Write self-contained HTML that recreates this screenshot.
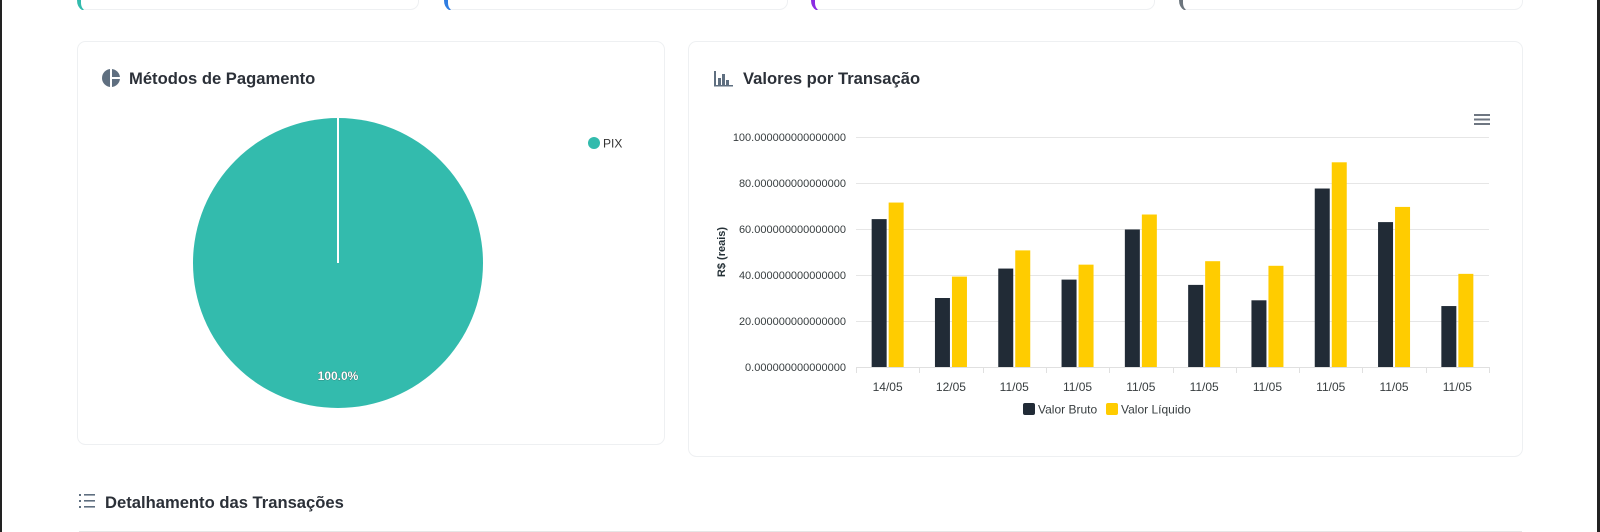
<!DOCTYPE html>
<html><head><meta charset="utf-8">
<style>
html,body{margin:0;padding:0;background:#fff;}
body{width:1600px;height:532px;overflow:hidden;position:relative;font-family:"Liberation Sans",Arial,sans-serif;}
svg{position:absolute;left:0;top:0;}
</style></head><body>
<svg width="1600" height="532" viewBox="0 0 1600 532" xmlns="http://www.w3.org/2000/svg" font-family="Liberation Sans, Arial, sans-serif">
  <rect x="0" y="0" width="2" height="532" fill="#222"/>
  <rect x="1597" y="0" width="3" height="532" fill="#222"/>
  <!-- top stub cards -->
  <g fill="#fff" stroke="#eef0f2" stroke-width="1">
    <rect x="77.5" y="-20" width="341" height="29.5" rx="8"/>
    <rect x="444.5" y="-20" width="343" height="29.5" rx="8"/>
    <rect x="811.5" y="-20" width="343" height="29.5" rx="8"/>
    <rect x="1179.5" y="-20" width="343" height="29.5" rx="8"/>
  </g>
  <path d="M77 0 h4 v3 q0 4 3 7 h-2 q-5 -3 -5 -10z" fill="#33bbad"/>
  <path d="M444 0 h4 v3 q0 4 3 7 h-2 q-5 -3 -5 -10z" fill="#2f7de1"/>
  <path d="M811 0 h4 v3 q0 4 3 7 h-2 q-5 -3 -5 -10z" fill="#8b2be2"/>
  <path d="M1179 0 h4 v3 q0 4 3 7 h-2 q-5 -3 -5 -10z" fill="#6c757d"/>

  <!-- cards -->
  <rect x="77.5" y="41.5" width="587" height="403" rx="8" fill="#fff" stroke="#eef0f2"/>
  <rect x="688.5" y="41.5" width="834" height="415" rx="8" fill="#fff" stroke="#eef0f2"/>

  <!-- pie card title -->
  <circle cx="111" cy="78" r="9" fill="#5f6f80"/>
  <rect x="110" y="68" width="2" height="20" fill="#fff"/>
  <rect x="111" y="77" width="10" height="2" fill="#fff"/>
  <text x="129" y="84" font-size="16.6" font-weight="bold" fill="#2b3038">Métodos de Pagamento</text>
  <circle cx="338" cy="263" r="145" fill="#33bbad"/>
  <rect x="337" y="118" width="2" height="145" fill="#fff"/>
  <text x="338" y="380" font-size="12" font-weight="bold" fill="#fff" text-anchor="middle" stroke="#2a5a55" stroke-width="0.6" paint-order="stroke">100.0%</text>
  <circle cx="594" cy="143" r="6" fill="#33bbad"/>
  <text x="603" y="147.5" font-size="12" fill="#333">PIX</text>

  <!-- bar card title -->
  <g fill="#5f6f80">
    <rect x="714" y="71" width="2" height="15"/>
    <rect x="718" y="78" width="3" height="8"/>
    <rect x="722" y="74" width="3" height="12"/>
    <rect x="726" y="80" width="3" height="6"/>
    <rect x="714" y="85" width="19" height="1.5"/>
  </g>
  <text x="743" y="84" font-size="16.6" font-weight="bold" fill="#2b3038">Valores por Transação</text>
  <g fill="#6e7681"><rect x="1474" y="114" width="16" height="2"/><rect x="1474" y="118.5" width="16" height="2"/><rect x="1474" y="123" width="16" height="2"/></g>

  <!-- grid -->
  <g stroke="#e6e6e6" stroke-width="1">
    <line x1="856" x2="1489" y1="137.5" y2="137.5"/>
    <line x1="856" x2="1489" y1="183.5" y2="183.5"/>
    <line x1="856" x2="1489" y1="229.5" y2="229.5"/>
    <line x1="856" x2="1489" y1="275.5" y2="275.5"/>
    <line x1="856" x2="1489" y1="321.5" y2="321.5"/>
  </g>
  <g font-size="11" fill="#373d3f" text-anchor="end">
    <text x="846" y="141">100.000000000000000</text>
    <text x="846" y="187">80.000000000000000</text>
    <text x="846" y="233">60.000000000000000</text>
    <text x="846" y="279">40.000000000000000</text>
    <text x="846" y="325">20.000000000000000</text>
    <text x="846" y="371">0.000000000000000</text>
  </g>
  <text transform="translate(725,252) rotate(-90)" font-size="11" font-weight="bold" fill="#263238" text-anchor="middle">R$ (reais)</text>

  <g id="bars"></g>
  <line x1="856" x2="1489" y1="367.5" y2="367.5" stroke="#e0e0e0"/>
  <g id="ticks" stroke="#e0e0e0"></g>
  <g id="xl" font-size="12" fill="#373d3f" text-anchor="middle"></g>

  <rect x="1023" y="403" width="12" height="12" rx="2" fill="#212b36"/>
  <text x="1038" y="413.5" font-size="12" fill="#373d3f">Valor Bruto</text>
  <rect x="1106" y="403" width="12" height="12" rx="2" fill="#ffcc00"/>
  <text x="1121" y="413.5" font-size="12" fill="#373d3f">Valor Líquido</text>

  <!-- bottom heading -->
  <g fill="#5f6f80">
    <rect x="79" y="494" width="2" height="2"/><rect x="84" y="494" width="11" height="1.6"/>
    <rect x="79" y="500" width="2" height="2"/><rect x="84" y="500" width="11" height="1.6"/>
    <rect x="79" y="506" width="2" height="2"/><rect x="84" y="506" width="11" height="1.6"/>
  </g>
  <text x="105" y="508" font-size="16.6" font-weight="bold" fill="#2b3038">Detalhamento das Transações</text>
  <rect x="79" y="531" width="1443" height="1" fill="#e6e6e6"/>
</svg>
<script>
(function(){
  var ns="http://www.w3.org/2000/svg";
  var b=[64.3,30,42.8,38,59.8,35.7,29,77.6,63,26.5];
  var l=[71.5,39.3,50.7,44.5,66.3,46,44,89,69.6,40.5];
  var lab=["14/05","12/05","11/05","11/05","11/05","11/05","11/05","11/05","11/05","11/05"];
  var bars=document.getElementById("bars"),ticks=document.getElementById("ticks"),xl=document.getElementById("xl");
  var w=63.3,x0=856,y0=367,k=2.3;
  function r(x,y,wd,h,c){var e=document.createElementNS(ns,"rect");e.setAttribute("x",x);e.setAttribute("y",y);e.setAttribute("width",wd);e.setAttribute("height",h);e.setAttribute("fill",c);bars.appendChild(e);}
  for(var i=0;i<10;i++){
    var c=x0+w*i+w/2;
    r(c-16,y0-b[i]*k,15,b[i]*k,"#212b36");
    r(c+1,y0-l[i]*k,15,l[i]*k,"#ffcc00");
    var t=document.createElementNS(ns,"text");t.setAttribute("x",c);t.setAttribute("y",391);t.textContent=lab[i];xl.appendChild(t);
  }
  for(var j=0;j<=10;j++){var ln=document.createElementNS(ns,"line");var x=Math.round(x0+w*j)+0.5;ln.setAttribute("x1",x);ln.setAttribute("x2",x);ln.setAttribute("y1",367);ln.setAttribute("y2",373);ticks.appendChild(ln);}
})();
</script>
</body></html>
